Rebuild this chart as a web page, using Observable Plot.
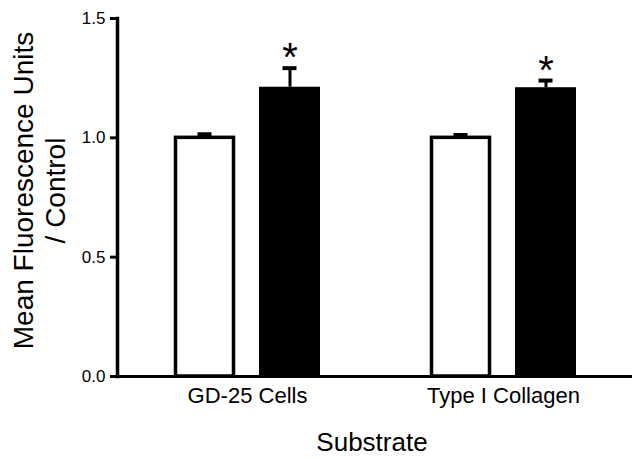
<!DOCTYPE html>
<html><head><meta charset="utf-8">
<script src="https://cdn.jsdelivr.net/npm/d3@7"></script>
<script src="https://cdn.jsdelivr.net/npm/@observablehq/plot@0.6"></script>
<style>body{margin:0;background:#fff}</style>
</head><body><div id="chart"></div>
<script>
const substrates = ["GD-25 Cells", "Type I Collagen"];
const controlMeans = [1.0, 1.0];
const controlErrors = [0.015, 0.012];
const treatedMeans = [1.212, 1.21];
const treatedErrors = [0.08, 0.03];
const significance = ["*", "*"];
const yTicks = [0, 0.5, 1.0, 1.5];
const yLabel = "Mean Fluorescence Units\n/ Control";
const xLabel = "Substrate";

const rows = substrates.map((s, i) => ({
  substrate: s,
  control: controlMeans[i], controlErr: controlErrors[i],
  treated: treatedMeans[i], treatedErr: treatedErrors[i],
  sig: significance[i]
}));

const chart = Plot.plot({
  width: 639, height: 459,
  marginLeft: 117, marginRight: 7, marginTop: 18, marginBottom: 83,
  style: {fontFamily: "'Liberation Sans', Arial, Helvetica, sans-serif", color: "#000", background: "#fff"},
  x: {domain: substrates, paddingInner: 0.43, paddingOuter: 0.22},
  y: {domain: [0, 1.5]},
  marks: [
    Plot.barY(rows, {x: "substrate", y: "control", fill: "white", stroke: "black", strokeWidth: 3.5, insetLeft: 1.5, insetRight: 86.5}),
    Plot.barY(rows, {x: "substrate", y: "treated", fill: "black", insetLeft: 85}),
    Plot.ruleX(rows, {x: "substrate", y1: "control", y2: d => d.control + d.controlErr, dx: -42.5, strokeWidth: 3}),
    Plot.tickY(rows, {x: "substrate", y: d => d.control + d.controlErr, insetLeft: 23.5, insetRight: 108.5, strokeWidth: 4}),
    Plot.ruleX(rows, {x: "substrate", y1: "treated", y2: d => d.treated + d.treatedErr, dx: 42.5, strokeWidth: 3}),
    Plot.tickY(rows, {x: "substrate", y: d => d.treated + d.treatedErr, insetLeft: 108.5, insetRight: 23.5, strokeWidth: 4}),
    Plot.text(rows, {x: "substrate", y: d => d.treated + d.treatedErr, text: "sig", dx: 42.5, dy: 3, fontSize: 40, lineAnchor: "bottom"}),
    Plot.ruleY([0], {strokeWidth: 3}),
    Plot.frame({anchor: "left", strokeWidth: 3.5}),
    Plot.axisY({ticks: yTicks, tickFormat: d3.format(".1f"), tickSize: 7, tickPadding: 5, fontSize: 17, strokeWidth: 3, label: null}),
    Plot.axisX({tickSize: 0, tickPadding: 11, fontSize: 22, label: null}),
    Plot.text([yLabel], {frameAnchor: "left", text: d => d, rotate: -90, dx: -79, dy: -7, fontSize: 28, lineHeight: 1.14, textAnchor: "middle"}),
    Plot.text([xLabel], {frameAnchor: "bottom", text: d => d, dx: -3, dy: 74, fontSize: 26, lineAnchor: "bottom"})
  ]
});
document.getElementById("chart").appendChild(chart);
</script>
</body></html>
